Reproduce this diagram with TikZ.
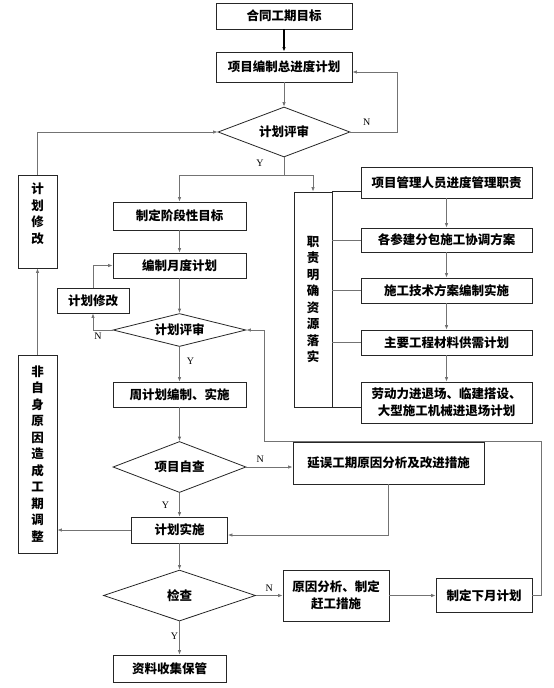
\documentclass[tikz,border=0pt]{standalone}
\usepackage{fontspec}
\setmainfont{Noto Sans CJK SC}
\newfontfamily\ynfont{Liberation Serif}
\usetikzlibrary{arrows.meta,shapes.geometric}
\definecolor{bc}{gray}{0.15}
\definecolor{lc}{gray}{0.45}
\tikzset{P node/.style={rectangle,draw=bc,line width=0.8pt,inner sep=0pt,align=center,font=\fontsize{12.5}{17}\selectfont\bfseries},
	D node/.style={diamond,draw=bc,line width=0.8pt,inner sep=0pt,aspect=3,font=\fontsize{12.5}{17}\selectfont\bfseries},
	V node/.style={P node,font=\fontsize{12.5}{16.5}\selectfont\bfseries},
	link/.style={draw=lc,line width=0.8pt},
	go/.style={link,-{Latex[length=4.5pt,width=3.5pt]}},
	YN/.style={font=\ynfont\fontsize{10}{12}\selectfont,inner sep=1pt},}

\begin{document}
\begin{tikzpicture}[x=1pt,y=-1pt]
			\path[use as bounding box,fill=white] (0,0) rectangle (554,688);

			\node[P node,minimum width=136pt,minimum height=26pt] (a) at (284,16) {合同工期目标};
			\node[P node,minimum width=136pt,minimum height=30pt] (b) at (284,67) {项目编制总进度计划};
			\node[D node,minimum width=132pt,minimum height=50pt] (c) at (284,132) {计划评审};
			\node[V node,minimum width=39pt,minimum height=93pt] (m1) at (37.5,221.5) {计\\划\\修\\改\\\mbox{}};
			\node[P node,minimum width=133pt,minimum height=28pt] (s1) at (179.5,216) {制定阶段性目标};
			\node[P node,minimum width=133pt,minimum height=25pt] (s2) at (179.5,265.5) {编制月度计划};
			\node[P node,minimum width=72pt,minimum height=25pt] (m2) at (93,300.5) {计划修改};
			\node[D node,aspect=4,minimum width=133pt,minimum height=33pt] (c2) at (179.5,330) {计划评审};
			\node[P node,minimum width=133pt,minimum height=25pt] (s3) at (179.5,394.5) {周计划编制、实施};
			\node[D node,minimum width=133pt,minimum height=51pt] (c3) at (179.5,467) {项目自查};
			\node[P node,minimum width=191pt,minimum height=42pt] (e1) at (388.5,463) {延误工期原因分析及改进措施};
			\node[P node,minimum width=96pt,minimum height=26pt] (s4) at (179.5,530) {计划实施};
			\node[V node,minimum width=39pt,minimum height=198pt] (m3) at (37.5,454) {非\\自\\身\\原\\因\\造\\成\\工\\期\\调\\整};
			\node[D node,minimum width=152pt,minimum height=51pt] (c4) at (179.5,595.5) {检查};
			\node[P node,minimum width=106pt,minimum height=51pt] (e2) at (336,595.5) {原因分析、制定\\赶工措施};
			\node[P node,minimum width=96pt,minimum height=34pt] (e3) at (484,595.5) {制定下月计划};
			\node[P node,minimum width=113pt,minimum height=27pt] (s5) at (169.5,668.5) {资料收集保管};

			\node[V node,minimum width=38pt,minimum height=215pt] (z) at (313,299.5) {职\\责\\明\\确\\资\\源\\落\\实};
			\node[P node,minimum width=171pt,minimum height=31pt] (r1) at (446.5,182.5) {项目管理人员进度管理职责};
			\node[P node,minimum width=171pt,minimum height=24pt] (r2) at (446.5,240) {各参建分包施工协调方案};
			\node[P node,minimum width=171pt,minimum height=25pt] (r3) at (446.5,290.5) {施工技术方案编制实施};
			\node[P node,minimum width=171pt,minimum height=25pt] (r4) at (446.5,342.5) {主要工程材料供需计划};
			\node[P node,minimum width=171pt,minimum height=41pt] (r5) at (446.5,402.5) {劳动力进退场、临建搭设、\\大型施工机械进退场计划};

			\coordinate (k1) at (284,175);
			\coordinate (k2) at (541,441);
			\coordinate (k3) at (264,441);

			\path[go,draw=black,line width=1.3pt] (a) edge (b);

			\path[go]
				(b) edge (c)
				(s1) edge (s2)
				(s2) edge (c2)
				(c2) edge node[YN,right=6pt,pos=0.4] {Y} (s3)
				(s3) edge (c3)
				(c3) edge node[YN,left=9pt] {Y} (s4)
				(s4) edge (c4)
				(e2) edge (e3)
				(r1) edge (r2)
				(r2) edge (r3)
				(r3) edge (r4)
				(r4) edge (r5)
				(m3) edge (m1);

			\draw[go] (c.east) -- node[YN,above=5pt,pos=0.35] {N} ++(47,0) |- ([yshift=-5pt]b.east);
			\draw[go] (c.south) -- node[YN,left=19pt,pos=0.35] {Y} (k1) -| (s1.north);
			\draw[go] (k1) -| (z.north);
			\draw[go] (m1.north) |- (c.west);
			\draw[go] (m2.north) |- (s2.west);
			\draw[go] (c2.west) -| node[YN,pos=0.5,below right,yshift=-2pt] {N} (m2.south);
			\draw[go] (c3.east) -- node[YN,above=3pt,pos=0.3] {N} (c3.east -| e1.west);
			\draw[go] (e1.south) |- ([yshift=-5pt]s4.east);
			\draw[go] (s4.west) -- (s4.west -| m3.east);
			\draw[go] (c4.east) -- node[YN,above=3pt] {N} (e2.west);
			\draw[go] (e3.east) -| (k2) -- (k3) |- (c2.east);
			\draw[go] (c4.south) -- node[YN,left,pos=0.45] {Y} (c4.south |- s5.north);

			\draw[link,draw=bc] (z.north east) -- (z.north east -| r1.west);
			\draw[link] (z.east |- r2.west) -- (r2.west);
			\draw[link] (z.east |- r3.west) -- (r3.west);
			\draw[link] (z.east |- r4.west) -- (r4.west);
			\draw[link,draw=bc] (z.south east) -- (z.south east -| r5.west);
		\end{tikzpicture}
\end{document}
